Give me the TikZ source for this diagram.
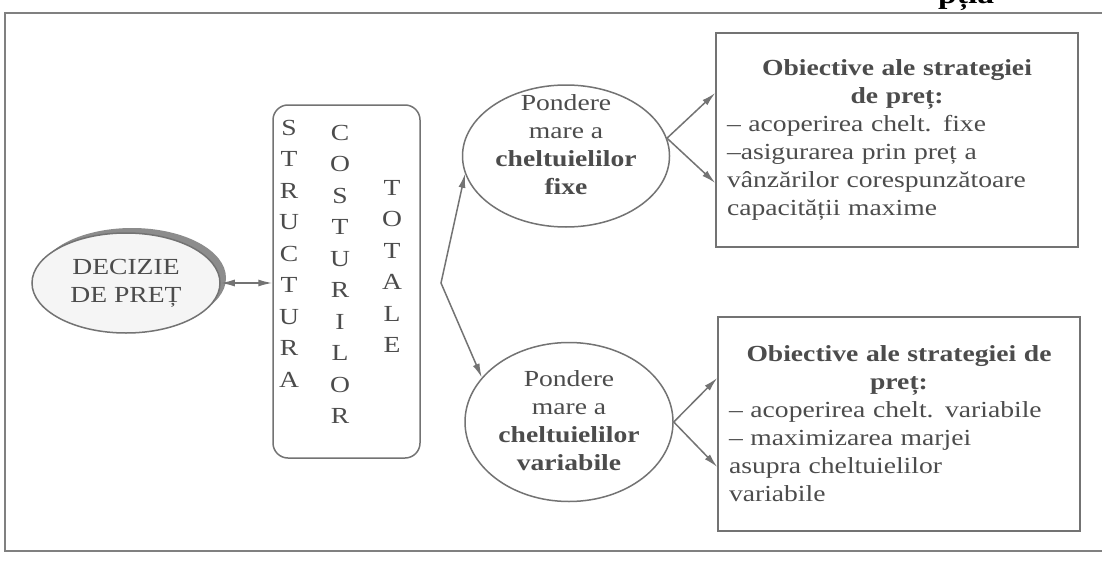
\documentclass[tikz,border=0pt]{standalone}
\usepackage{fontspec}
\setmainfont{Liberation Serif}[FakeStretch=1.2]
\usetikzlibrary{shapes.geometric,arrows.meta}
\begin{document}
\begin{tikzpicture}[x=1pt,y=-1pt,
  ln/.style={draw=black!55, line width=1.5pt},
  tip/.style={},
  arr/.style={ln, -{Latex[length=14pt,width=7pt]}},
  dbl/.style={ln, {Latex[length=14pt,width=7pt]}-{Latex[length=14pt,width=7pt]}},
  txt/.style={text=black!70, font=\fontsize{23}{28}\selectfont},
  ell/.style={ellipse, ln, inner sep=0pt},
  letters/.style={text=black!70, font=\fontsize{23}{31.5}\selectfont, align=center, anchor=north, inner sep=0pt},
  objbox/.style={rectangle, ln, txt, text width=340pt, inner xsep=11pt, inner ysep=0pt, minimum height=214pt, align=left}
]
\useasboundingbox[fill=white] (0,0) rectangle (1102,578);
% outer frame
\draw[draw=black!50, line width=2pt] (1110,13) -- (5,13) -- (5,551) -- (1110,551);
% cut-off heading text
\node[font=\bfseries\fontsize{28}{28}\selectfont, anchor=base west, inner sep=0pt] (head) at (938,4) {pția};
% decision ellipse with shadow
\node[ellipse, fill=black!45, minimum width=188pt, minimum height=100pt, inner sep=0pt] (decshadow) at (132,278) {};
\node[ell, fill=black!4, minimum width=188pt, minimum height=100pt, txt, align=center] (dec) at (126,283) {DECIZIE\\DE PREȚ};
% structure box
\node[ln, rectangle, rounded corners=15pt, minimum width=147pt, minimum height=353pt] (struct) at (346.5,281.5) {};
\node[letters] (col1) at (289,120) {S\\T\\R\\U\\C\\T\\U\\R\\A};
\node[letters] (col2) at (340,125) {C\\O\\S\\T\\U\\R\\I\\L\\O\\R};
\node[letters] (col3) at (392,180) {T\\O\\T\\A\\L\\E};
% ellipses
\node[ell, minimum width=207pt, minimum height=142pt] (e1) at (566,156) {};
\node[txt, align=center, inner sep=0pt] (e1t) at (566,145) {Pondere\\mare a\\\textbf{cheltuielilor}\\\textbf{fixe}};
\node[ell, minimum width=208pt, minimum height=159pt] (e2) at (569,422) {};
\node[txt, align=center, inner sep=0pt] (e2t) at (569,421) {Pondere\\mare a\\\textbf{cheltuielilor}\\\textbf{variabile}};
% objective boxes
\node[objbox, minimum width=362pt] (b1) at (897,140) {\parindent=0pt{\centering\bfseries Obiective ale strategiei\\de preț:\par}– acoperirea chelt. fixe\\–asigurarea prin preț a\\vânzărilor corespunzătoare\\capacității maxime};
\node[objbox, minimum width=362pt] (b2) at (899,424) {\parindent=0pt{\centering\bfseries Obiective ale strategiei de\\preț:\par}– acoperirea chelt. variabile\\– maximizarea marjei\\asupra cheltuielilor\\variabile};
% connectors
\coordinate (fork) at (441,283);
\draw[dbl] (dec.east) -- (dec.east -| struct.west);
\draw[dbl] (e1.190) -- (fork) -- (e2.153);
\draw[arr] (e1.10) -- ([yshift=47pt]b1.west);
\draw[arr] (e1.10) -- ([yshift=-43pt]b1.west);
\draw[arr] (e2.east) -- ([yshift=46pt]b2.west);
\draw[arr] (e2.east) -- ([yshift=-43pt]b2.west);
\end{tikzpicture}
\end{document}
